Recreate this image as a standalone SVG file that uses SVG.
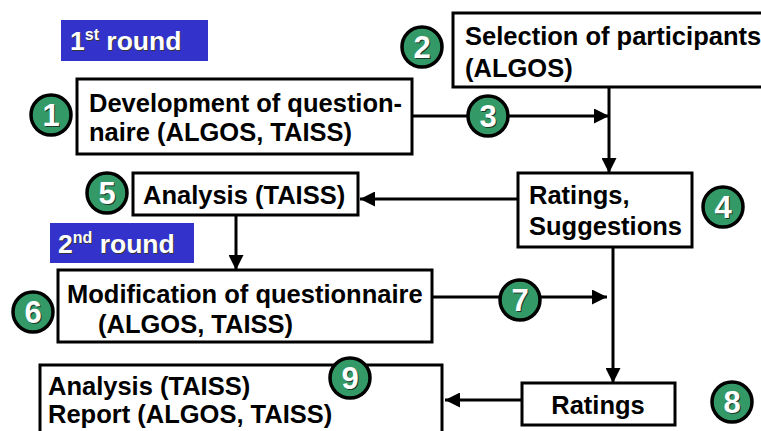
<svg xmlns="http://www.w3.org/2000/svg" width="761" height="431" viewBox="0 0 761 431">
<style>
.box{fill:#fff;stroke:#000;stroke-width:3}
.t{font-family:"Liberation Sans",Arial,sans-serif;font-weight:bold;font-size:25.5px;fill:#000}
.round{fill:#3333cc}
.rt{font-family:"Liberation Sans",Arial,sans-serif;font-weight:bold;font-size:26.5px;fill:#fff}
.rs{fill:#333}
.c{fill:#339966;stroke:#000;stroke-width:3.5}
.n{font-family:"Liberation Sans",Arial,sans-serif;font-weight:bold;font-size:31px;fill:#fff;text-anchor:middle}
.ns{fill:#1a3a2a}
.ln{stroke:#000;stroke-width:3;fill:none}
</style>
<defs>
<marker id="ah" viewBox="0 0 10 10" refX="10" refY="5" markerWidth="5" markerHeight="5" markerUnits="strokeWidth" orient="auto">
<path d="M0,0 L10,5 L0,10 z" fill="#000"/>
</marker>
</defs>
<rect width="761" height="431" fill="#fff"/>

<g id="round1">
<rect class="round" x="61" y="20" width="147" height="41"/>
<text class="rt rs" x="70" y="50" dx="1" dy="1">1<tspan font-size="16" dy="-10">st</tspan><tspan dy="10"> round</tspan></text>
<text class="rt" x="70" y="50">1<tspan font-size="16" dy="-10">st</tspan><tspan dy="10"> round</tspan></text>
</g>
<g id="round2">
<rect class="round" x="50" y="223" width="144" height="40"/>
<text class="rt rs" x="58" y="253" dx="1" dy="1">2<tspan font-size="16" dy="-10">nd</tspan><tspan dy="10"> round</tspan></text>
<text class="rt" x="58" y="253">2<tspan font-size="16" dy="-10">nd</tspan><tspan dy="10"> round</tspan></text>
</g>

<g id="connectors">
<line class="ln" x1="412" y1="116" x2="609" y2="116" marker-end="url(#ah)"/>
<line class="ln" x1="609" y1="87" x2="609" y2="173" marker-end="url(#ah)"/>
<line class="ln" x1="518" y1="199" x2="360" y2="199" marker-end="url(#ah)"/>
<line class="ln" x1="236" y1="215" x2="236" y2="270" marker-end="url(#ah)"/>
<line class="ln" x1="432" y1="297" x2="607" y2="297" marker-end="url(#ah)"/>
<line class="ln" x1="613" y1="247" x2="613" y2="383" marker-end="url(#ah)"/>
<line class="ln" x1="522" y1="400" x2="445" y2="400" marker-end="url(#ah)"/>
</g>

<g id="n1">
<rect class="box" x="77" y="79" width="335" height="75"/>
<text class="t" x="89" y="112">Development of question-</text>
<text class="t" x="89" y="141">naire (ALGOS, TAISS)</text>
</g>
<g id="n2">
<rect class="box" x="453" y="13" width="320" height="74"/>
<text class="t" x="465" y="45">Selection of participants</text>
<text class="t" x="465" y="77">(ALGOS)</text>
</g>
<g id="n4">
<rect class="box" x="518" y="173" width="174" height="74"/>
<text class="t" x="529" y="204">Ratings,</text>
<text class="t" x="529" y="235">Suggestions</text>
</g>
<g id="n5">
<rect class="box" x="133" y="173" width="225" height="42"/>
<text class="t" x="143" y="204">Analysis (TAISS)</text>
</g>
<g id="n6">
<rect class="box" x="58" y="270" width="374" height="72"/>
<text class="t" x="67" y="303">Modification of questionnaire</text>
<text class="t" x="98" y="333">(ALGOS, TAISS)</text>
</g>
<g id="n8">
<rect class="box" x="522" y="383" width="153" height="42"/>
<text class="t" x="598" y="414" text-anchor="middle">Ratings</text>
</g>
<g id="n9">
<rect class="box" x="40" y="365" width="402" height="80"/>
<text class="t" x="48" y="395">Analysis (TAISS)</text>
<text class="t" x="48" y="423">Report (ALGOS, TAISS)</text>
</g>

<g id="c1"><circle class="c" cx="51" cy="115" r="20"/><text class="n ns" x="52" y="127">1</text><text class="n" x="51" y="126">1</text></g>
<g id="c2"><circle class="c" cx="422" cy="47" r="20"/><text class="n ns" x="423" y="59">2</text><text class="n" x="422" y="58">2</text></g>
<g id="c3"><circle class="c" cx="488" cy="116" r="20"/><text class="n ns" x="489" y="128">3</text><text class="n" x="488" y="127">3</text></g>
<g id="c4"><circle class="c" cx="723" cy="207" r="20"/><text class="n ns" x="724" y="219">4</text><text class="n" x="723" y="218">4</text></g>
<g id="c5"><circle class="c" cx="107" cy="193" r="20"/><text class="n ns" x="108" y="205">5</text><text class="n" x="107" y="204">5</text></g>
<g id="c6"><circle class="c" cx="33" cy="312" r="20"/><text class="n ns" x="34" y="324">6</text><text class="n" x="33" y="323">6</text></g>
<g id="c7"><circle class="c" cx="520" cy="300" r="20"/><text class="n ns" x="521" y="312">7</text><text class="n" x="520" y="311">7</text></g>
<g id="c8"><circle class="c" cx="732" cy="402" r="20"/><text class="n ns" x="733" y="414">8</text><text class="n" x="732" y="413">8</text></g>
<g id="c9"><circle class="c" cx="350" cy="378" r="20"/><text class="n ns" x="351" y="390">9</text><text class="n" x="350" y="389">9</text></g>
</svg>
